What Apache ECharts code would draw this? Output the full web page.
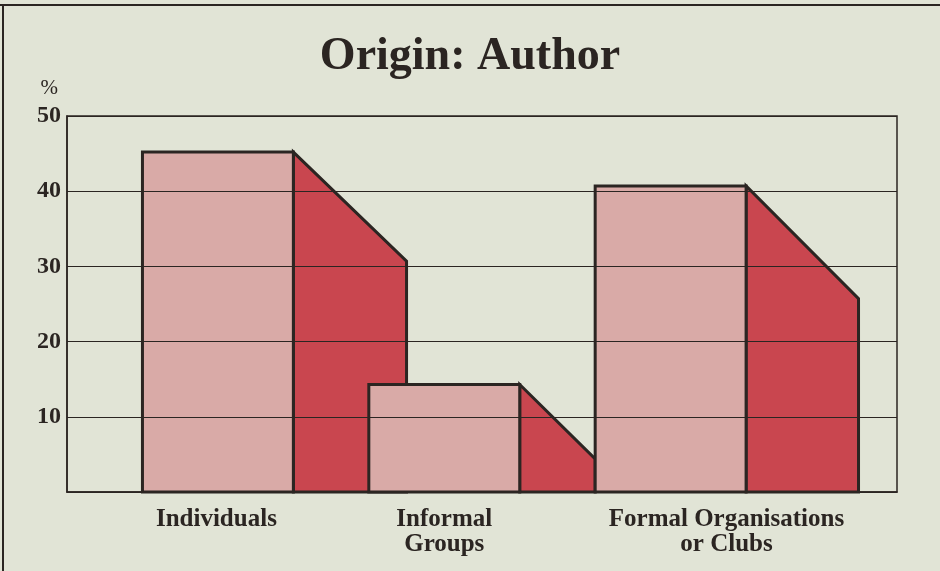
<!DOCTYPE html>
<html>
<head>
<meta charset="utf-8">
<script src="https://cdn.jsdelivr.net/npm/echarts@6/dist/echarts.min.js"></script>
<style>
  html, body { margin: 0; padding: 0; background: #e1e4d6; overflow: hidden; }
  #chart { width: 940px; height: 571px; }
</style>
</head>
<body>
<div id="chart"></div>
<script>
// ---- data ----
const categories = ['Individuals', 'Informal\nGroups', 'Formal Organisations\nor Clubs'];
const lightValues = [45.2, 14.3, 40.7];   // height of the pale bar (%)
const darkEndValues = [30.7, 4.4, 25.7];  // lower end of the sloped dark block (%)
const yTicks = [10, 20, 30, 40, 50];

// ---- layout (x in axis units, 1 unit = pale bar width) ----
const barStart = [0.5, 2.0, 3.5];
const darkWidth = [0.75, 0.5, 0.745];
const labelPos = [0.99, 2.5, 4.37];

const ink = '#2b2522';
const chart = echarts.init(document.getElementById('chart'));

const option = {
  backgroundColor: '#e1e4d6',
  animation: false,
  title: {
    text: 'Origin: Author',
    left: 'center',
    top: 29,
    textStyle: { fontFamily: 'Liberation Serif', fontWeight: 'bold', fontSize: 46, color: ink }
  },
  graphic: [
    { type: 'line', shape: { x1: 0, y1: 5, x2: 940, y2: 5 },
      style: { stroke: ink, lineWidth: 2 }, silent: true },
    { type: 'line', shape: { x1: 3, y1: 5, x2: 3, y2: 571 },
      style: { stroke: ink, lineWidth: 2 }, silent: true }
  ],
  grid: {
    left: 67, right: 43, top: 116, bottom: 79,
    show: true, borderColor: ink, borderWidth: 1.5, backgroundColor: 'transparent'
  },
  xAxis: {
    type: 'value', min: 0, max: 5.5,
    axisLine: { show: true, onZero: false, lineStyle: { color: ink, width: 1.5 } },
    axisTick: { show: false },
    splitLine: { show: false },
    axisLabel: {
      customValues: labelPos,
      showMinLabel: true, showMaxLabel: true,
      margin: 15,
      fontFamily: 'Liberation Serif', fontWeight: 'bold', fontSize: 25, lineHeight: 25,
      color: ink, align: 'center',
      formatter: function (v) {
        const i = labelPos.findIndex(p => Math.abs(p - v) < 1e-6);
        return i >= 0 ? categories[i] : '';
      }
    }
  },
  yAxis: {
    type: 'value', min: 0, max: 50, interval: 10,
    z: 10,
    name: '%',
    nameLocation: 'end',
    nameGap: 17,
    nameTextStyle: { fontFamily: 'Liberation Serif', fontSize: 21, color: ink, align: 'right', padding: [0, 9, 0, 0] },
    axisLine: { show: true, lineStyle: { color: ink, width: 1.5 } },
    axisTick: { show: false },
    axisLabel: {
      margin: 6,
      fontFamily: 'Liberation Serif', fontWeight: 'bold', fontSize: 24, color: ink,
      formatter: function (v) { return yTicks.indexOf(v) >= 0 ? String(v) : ''; }
    },
    splitLine: { show: true, lineStyle: { color: ink, width: 1.2 } }
  },
  series: [{
    type: 'custom',
    data: categories.map((c, i) => [i, lightValues[i], darkEndValues[i]]),
    encode: { x: 0, y: [1, 2] },
    z: 2,
    renderItem: function (params, api) {
      const i = params.dataIndex;
      const top = api.value(1);
      const end = api.value(2);
      const x0 = barStart[i], x1 = x0 + 1, x2 = x1 + darkWidth[i];
      const p = (x, y) => api.coord([x, y]);
      const light = [p(x0, 0), p(x0, top), p(x1, top), p(x1, 0)];
      const dark = [p(x1, 0), p(x1, top), p(x2, end), p(x2, 0)];
      return {
        type: 'group',
        children: [
          { type: 'polygon', shape: { points: dark },
            style: { fill: '#c9464f', stroke: ink, lineWidth: 3, lineJoin: 'miter' } },
          { type: 'polygon', shape: { points: light },
            style: { fill: '#d9aaa7', stroke: ink, lineWidth: 3, lineJoin: 'miter' } }
        ]
      };
    }
  }]
};
chart.setOption(option);
</script>
</body>
</html>
